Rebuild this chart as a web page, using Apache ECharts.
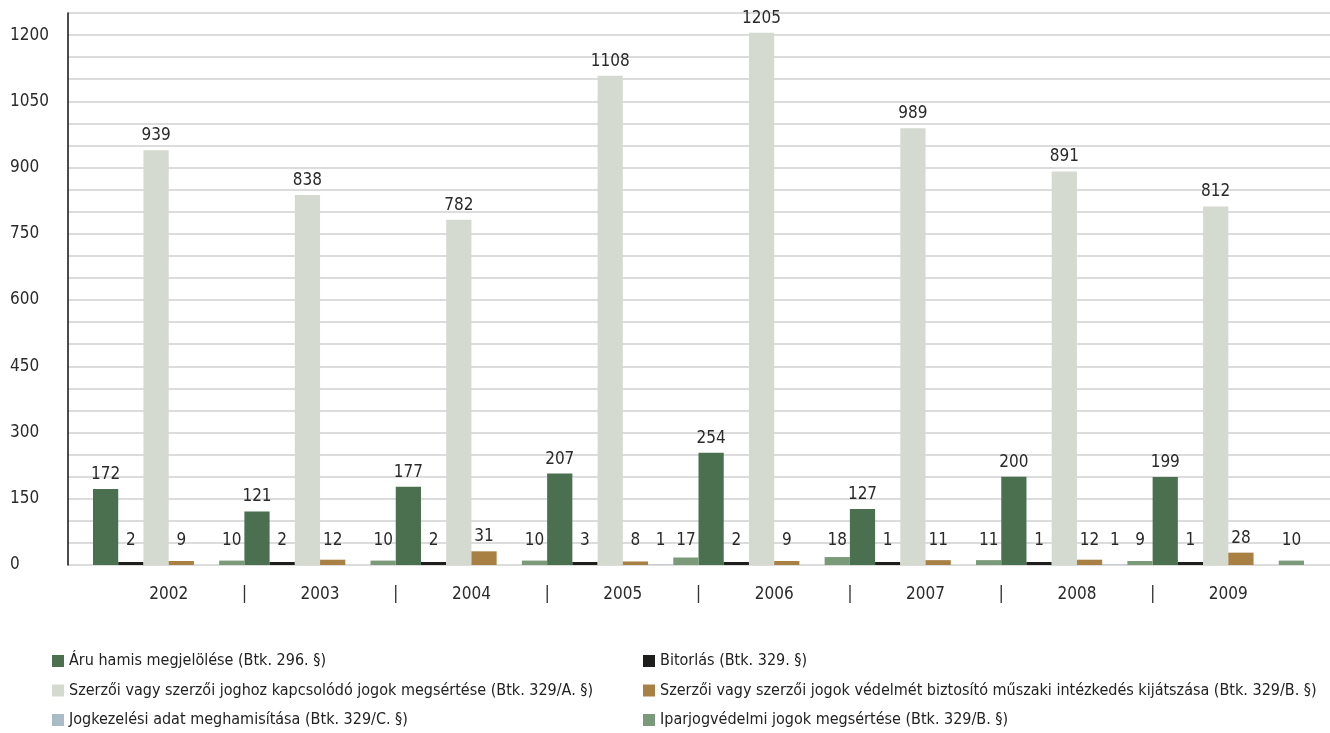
<!DOCTYPE html>
<html><head><meta charset="utf-8">
<script src="https://cdn.jsdelivr.net/npm/echarts@6/dist/echarts.min.js"></script>
<style>html,body{margin:0;padding:0;background:#fff}#c{width:1330px;height:733px}</style>
</head><body><div id="c"></div><script>
// ---- data ----
const years = ['2002', '2003', '2004', '2005', '2006', '2007', '2008', '2009'];
const aru = [172, 121, 177, 207, 254, 127, 200, 199];
const bitorlas = [2, 2, 2, 3, 2, 1, 1, 1];
const szerzoi = [939, 838, 782, 1108, 1205, 989, 891, 812];
const muszaki = [9, 12, 31, 8, 9, 11, 12, 28];
const jogkezelesi = [null, null, null, 1, null, null, 1, null];
const iparjog = [10, 10, 10, 17, 18, 11, 9, 10];
const seriesNames = [
  'Áru hamis megjelölése (Btk. 296. §)',
  'Bitorlás (Btk. 329. §)',
  'Szerzői vagy szerzői joghoz kapcsolódó jogok megsértése (Btk. 329/A. §)',
  'Szerzői vagy szerzői jogok védelmét biztosító műszaki intézkedés kijátszása (Btk. 329/B. §)',
  'Jogkezelési adat meghamisítása (Btk. 329/C. §)',
  'Iparjogvédelmi jogok megsértése (Btk. 329/B. §)'
];
const separatorLabels = ['', '|', '|', '|', '|', '|', '|', '|', ''];
const yMin = 0, yMax = 1250, yGridStep = 50, yLabelStep = 150;

// ---- style ----
const seriesColors = ['#4a7050', '#1e1e1c', '#d4dad0', '#a98043', '#a9bcc6', '#7b9a79'];
const FONT = "'Liberation Sans Narrow','DejaVu Sans Condensed',sans-serif";
const NUM_SIZE = 17;
const LABEL_FLOOR = 22;
const allData = [aru, bitorlas, szerzoi, muszaki, jogkezelesi, iparjog];

const series = [];
allData.forEach((vals, i) => {
  const stack = 'g' + i;
  series.push({
    name: seriesNames[i], type: 'bar', xAxisIndex: 1, yAxisIndex: 1, stack: stack,
    data: vals, barGap: '0%', barCategoryGap: '0%',
    barMinHeight: i === 1 ? 3 : 0,
    itemStyle: { color: seriesColors[i] },
    label: { show: false }, silent: true
  });
  series.push({
    name: '_lbl' + i, type: 'bar', xAxisIndex: 1, yAxisIndex: 1, stack: stack,
    data: vals.map(v => v == null ? null : Math.max(LABEL_FLOOR - v, 0)),
    barGap: '0%', barCategoryGap: '0%',
    itemStyle: { color: 'rgba(0,0,0,0)' }, silent: true,
    label: {
      show: true, position: 'top', distance: 6,
      fontFamily: FONT, fontSize: NUM_SIZE, color: '#2a2a2a',
      formatter: p => (vals[p.dataIndex] == null ? '' : String(vals[p.dataIndex]))
    }
  });
});

const legendText = { fontFamily: FONT, fontSize: 16, color: '#222', lineHeight: 20 };
const legendBase = { orient: 'vertical', top: 651, padding: 0, icon: 'rect', itemWidth: 12, itemHeight: 12,
  itemGap: 9.5, textStyle: legendText, selectedMode: false, height: 90 };
const option = {
  animation: false,
  backgroundColor: '#fff',
  grid: [
    { left: 68, right: 0, top: 13, bottom: 168, containLabel: false },
    { left: 93, right: 26, top: 13, bottom: 168, containLabel: false }
  ],
  xAxis: [
    { gridIndex: 0, type: 'category', data: years, show: false },
    { gridIndex: 1, type: 'category', data: years, position: 'bottom',
      axisLine: { show: false }, axisTick: { show: false }, splitLine: { show: false },
      axisLabel: { interval: 0, margin: 21, fontFamily: FONT, fontSize: NUM_SIZE, color: '#2a2a2a' } },
    { gridIndex: 1, type: 'category', data: separatorLabels, boundaryGap: false, position: 'bottom',
      axisLine: { show: false }, axisTick: { show: false }, splitLine: { show: false },
      axisLabel: { interval: 0, margin: 20, fontFamily: FONT, fontSize: 18, color: '#333' } }
  ],
  yAxis: [
    { gridIndex: 0, type: 'value', min: yMin, max: yMax, interval: yGridStep,
      axisLine: { show: true, lineStyle: { color: '#111', width: 1.5 } },
      axisTick: { show: false },
      splitLine: { show: true, lineStyle: { color: '#dcdcdc', width: 2 } },
      axisLabel: { margin: 58, align: 'left', fontFamily: FONT, fontSize: NUM_SIZE, color: '#2a2a2a',
        formatter: v => (v % yLabelStep === 0 ? String(v) : '') } },
    { gridIndex: 1, type: 'value', min: yMin, max: yMax, interval: yGridStep, show: false }
  ],
  legend: [
    Object.assign({ data: [seriesNames[0], seriesNames[2], seriesNames[4]], left: 52 }, legendBase),
    Object.assign({ data: [seriesNames[1], seriesNames[3], seriesNames[5]], left: 643 }, legendBase)
  ],
  series: series
};
const chart = echarts.init(document.getElementById('c'), null, { renderer: 'canvas' });
chart.setOption(option);
</script></body></html>
